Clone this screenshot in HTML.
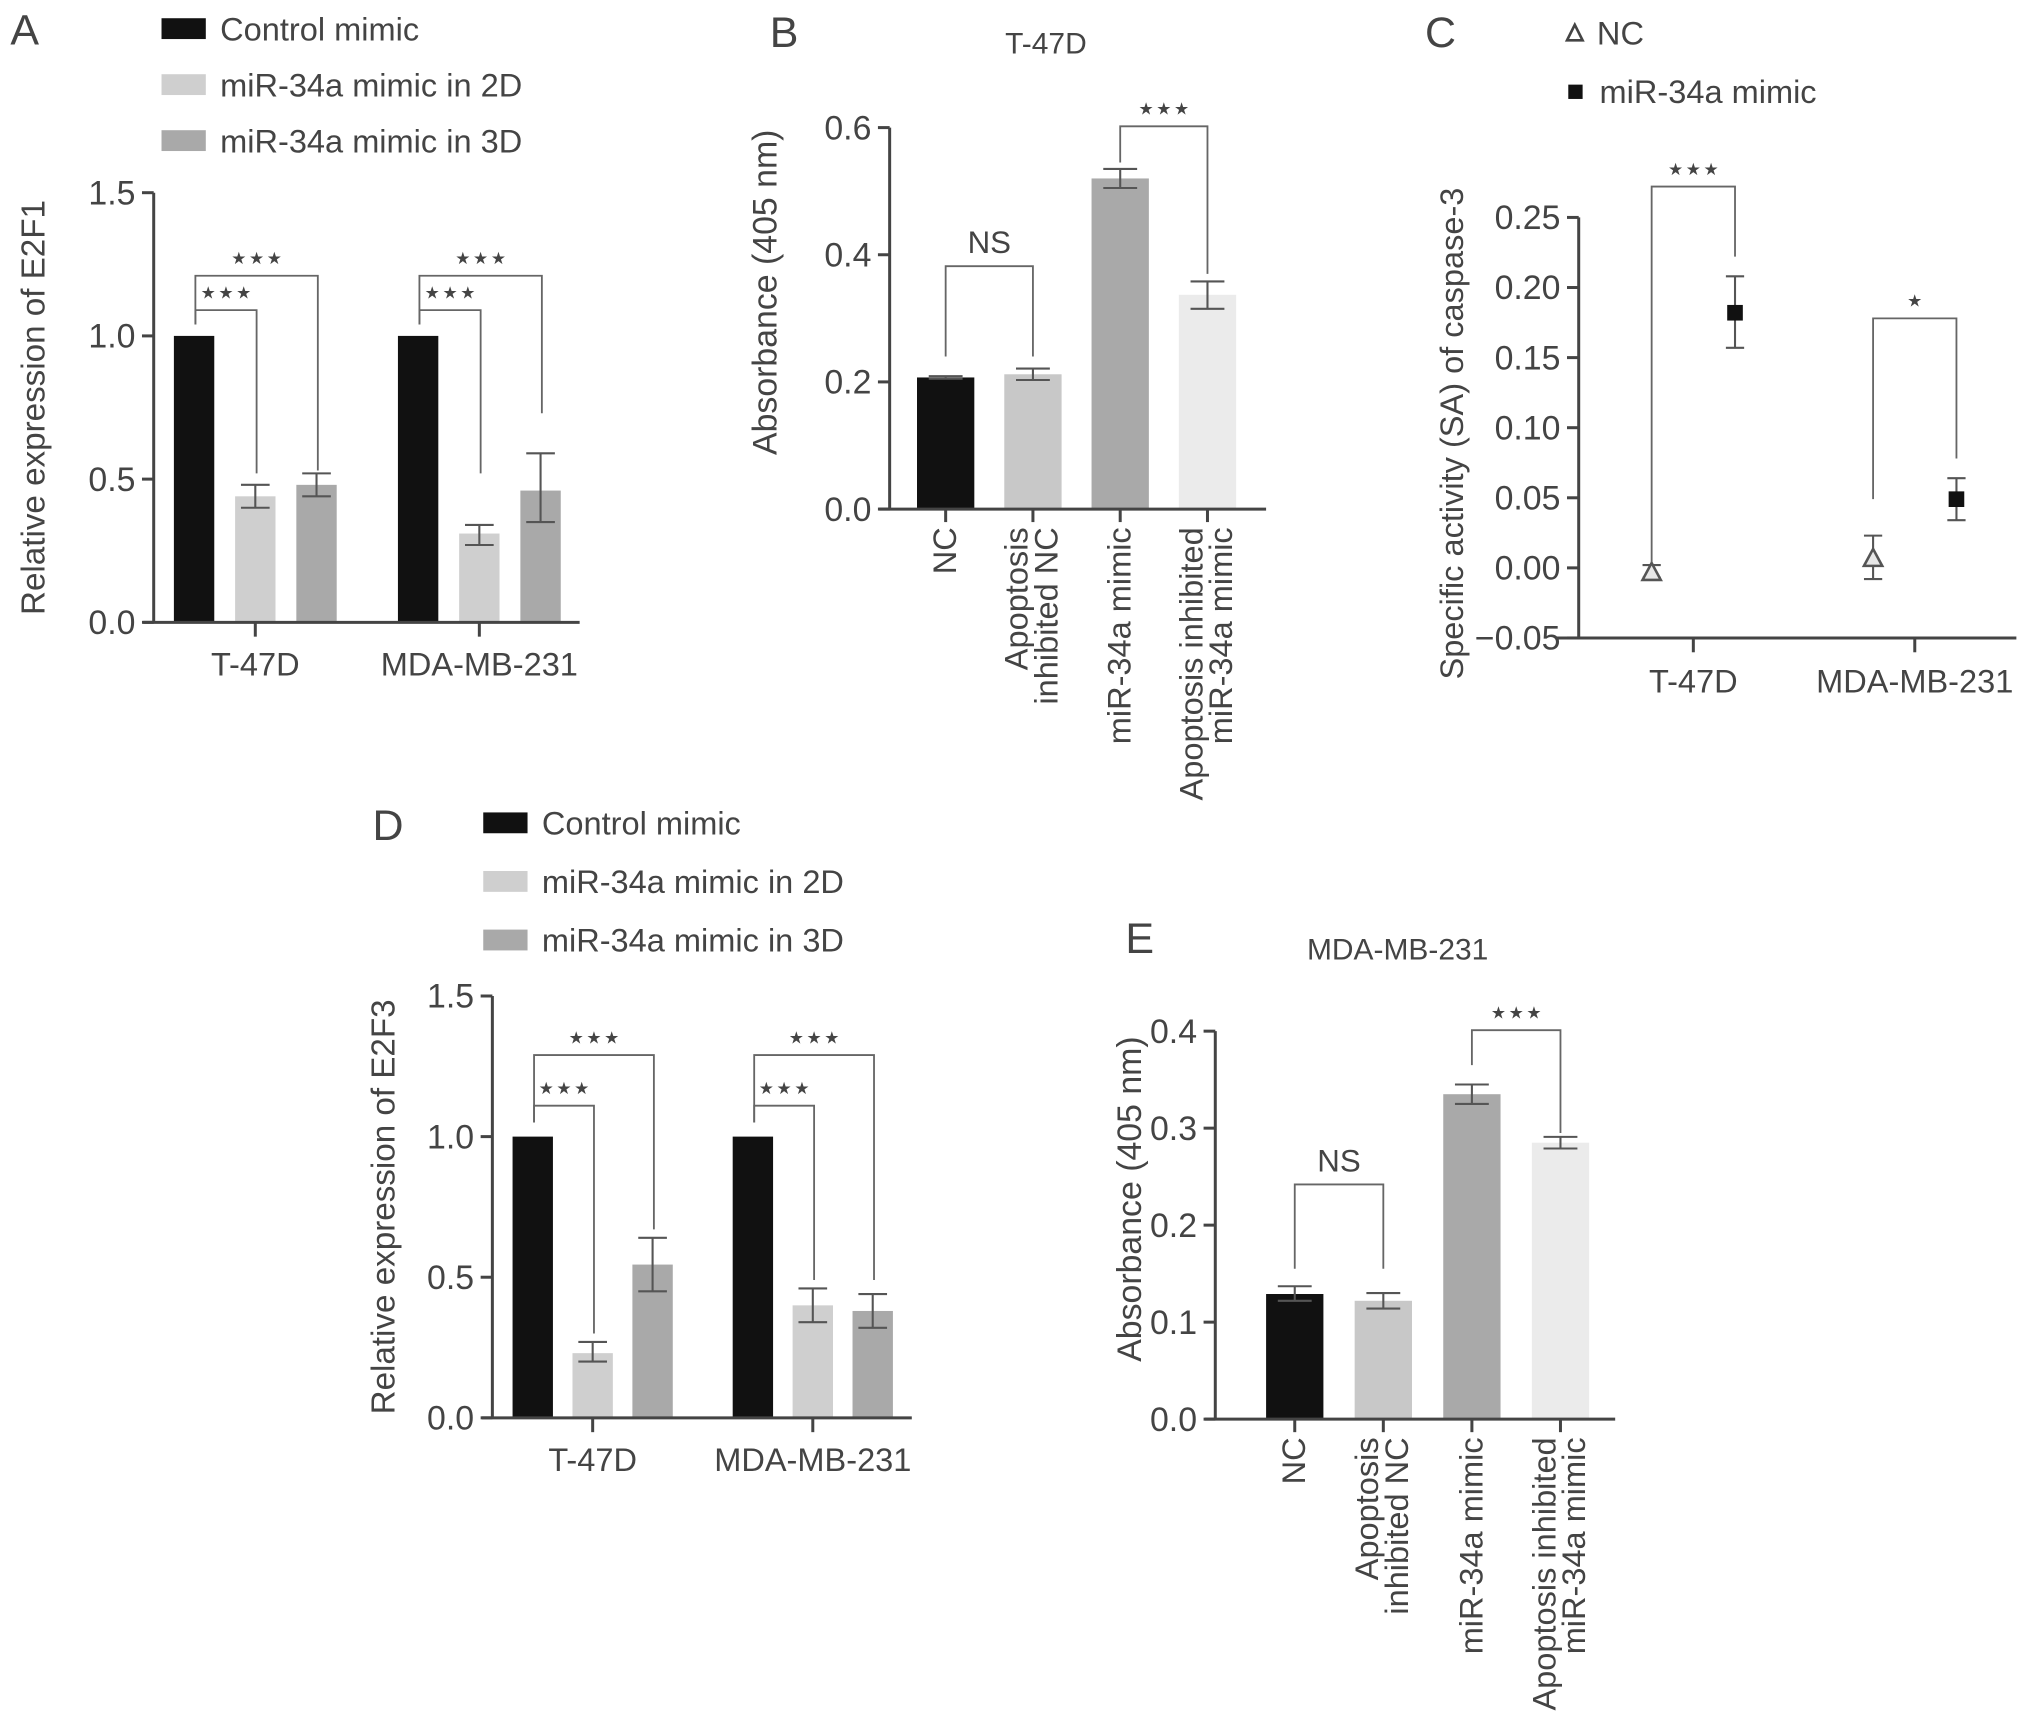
<!DOCTYPE html>
<html><head><meta charset="utf-8">
<style>
html,body{margin:0;padding:0;background:#fff;}
svg{display:block;}
text{font-family:"Liberation Sans",sans-serif;fill:#444;}
.narrow{font-family:"Liberation Sans Narrow","Liberation Sans",sans-serif;}
.stars{font-family:"DejaVu Sans",sans-serif;letter-spacing:2px;}
</style></head>
<body>
<svg id="fig" width="2032" height="1729" viewBox="0 0 1560 1328" preserveAspectRatio="none" xmlns="http://www.w3.org/2000/svg"></svg>
<script>
// ---------- Panel A data ----------
const aGroups = ["T-47D", "MDA-MB-231"];
const aSeries = ["Control mimic", "miR-34a mimic in 2D", "miR-34a mimic in 3D"];
const aValues = [[1.0, 0.44, 0.48], [1.0, 0.31, 0.46]];
const aErrLo = [[1.0, 0.40, 0.44], [1.0, 0.27, 0.35]];
const aErrHi = [[1.0, 0.48, 0.52], [1.0, 0.34, 0.59]];
const aTicks = ["0.0", "0.5", "1.0", "1.5"];
const aTickVals = [0, 0.5, 1.0, 1.5];
const aBrackets = [[0,0,1,1.09,1.04,0.52,"***"],[0,0,2,1.21,1.04,0.53,"***"],[1,0,1,1.09,1.04,0.52,"***"],[1,0,2,1.21,1.04,0.73,"***"]];

// ---------- Panel B data ----------
const bCats = [["NC"],["Apoptosis","inhibited NC"],["miR-34a mimic"],["Apoptosis inhibited","miR-34a mimic"]];
const bValues = [0.207, 0.212, 0.520, 0.337];
const bErrLo = [0.205, 0.203, 0.505, 0.315];
const bErrHi = [0.209, 0.221, 0.535, 0.358];
const bTicks = ["0.0","0.2","0.4","0.6"];
const bTickVals = [0, 0.2, 0.4, 0.6];
const bBrackets = [[0,1,0.382,0.24,0.24,"NS"],[2,3,0.602,0.545,0.37,"***"]];

// ---------- Panel C data ----------
const cGroups = ["T-47D","MDA-MB-231"];
const cSeries = ["NC","miR-34a mimic"];
const cValues = [[-0.003, 0.182],[0.007, 0.049]];
const cErrLo = [[-0.007, 0.157],[-0.008, 0.034]];
const cErrHi = [[0.002, 0.208],[0.023, 0.064]];
const cTicks = ["\u22120.05","0.00","0.05","0.10","0.15","0.20","0.25"];
const cTickVals = [-0.05,0,0.05,0.10,0.15,0.20,0.25];
const cBrackets = [[0,0.272,0.004,0.222,"***"],[1,0.178,0.049,0.078,"*"]];

// ---------- Panel D data ----------
const dGroups = ["T-47D","MDA-MB-231"];
const dSeries = ["Control mimic","miR-34a mimic in 2D","miR-34a mimic in 3D"];
const dValues = [[1.0, 0.23, 0.545],[1.0, 0.40, 0.38]];
const dErrLo = [[1.0, 0.20, 0.45],[1.0, 0.34, 0.32]];
const dErrHi = [[1.0, 0.27, 0.64],[1.0, 0.46, 0.44]];
const dTicks = ["0.0","0.5","1.0","1.5"];
const dTickVals = [0,0.5,1.0,1.5];
const dBrackets = [[0,0,1,1.11,1.05,0.30,"***"],[0,0,2,1.29,1.05,0.67,"***"],[1,0,1,1.11,1.05,0.49,"***"],[1,0,2,1.29,1.05,0.49,"***"]];

// ---------- Panel E data ----------
const eCats = [["NC"],["Apoptosis","inhibited NC"],["miR-34a mimic"],["Apoptosis inhibited","miR-34a mimic"]];
const eValues = [0.129, 0.122, 0.335, 0.285];
const eErrLo = [0.122, 0.114, 0.325, 0.279];
const eErrHi = [0.137, 0.130, 0.345, 0.291];
const eTicks = ["0.0","0.1","0.2","0.3","0.4"];
const eTickVals = [0,0.1,0.2,0.3,0.4];
const eBrackets = [[0,1,0.242,0.155,0.155,"NS"],[2,3,0.401,0.365,0.295,"***"]];

const NS = "http://www.w3.org/2000/svg";
const svg = document.getElementById("fig");
const colors3 = ["#111111","#cfcfcf","#a9a9a9"];
const colors4 = ["#111111","#c8c8c8","#a9a9a9","#ebebeb"];

function mk(tag, attrs, parent, txt){
  const el = document.createElementNS(NS, tag);
  for (const k in attrs) el.setAttribute(k, attrs[k]);
  if (txt !== undefined) el.textContent = txt;
  (parent||svg).appendChild(el);
  return el;
}
function line(x1,y1,x2,y2,w,c,p){ return mk("line",{x1:x1,y1:y1,x2:x2,y2:y2,stroke:c||"#444","stroke-width":w||2.3},p); }

function yAxis(g, x, yScale, vals, labels){
  const ax = line(x, yScale(vals[vals.length-1]), x, yScale(vals[0]), 2.3, "#444", g);
  
  
  vals.forEach((v,i)=>{
    const y = yScale(v);
    line(x-9, y, x, y, 2.3, "#444", g);
    const t = mk("text",{x:x-14,y:y+9,"text-anchor":"end","font-size":26},g,labels[i]);
    
    
  });
}
function xAxis(g, x1, x2, y){
  const ax = line(x1, y, x2, y, 2.3, "#444", g);
  
  
}
function errBar(g, cx, yLo, yHi, hw){
  line(cx, yLo, cx, yHi, 1.6, "#555", g);
  line(cx-hw, yLo, cx+hw, yLo, 1.6, "#555", g);
  line(cx-hw, yHi, cx+hw, yHi, 1.6, "#555", g);
}
function bracket(g, xl, xr, yTop, yl, yr, label){
  mk("path",{d:`M${xl},${yl} L${xl},${yTop} L${xr},${yTop} L${xr},${yr}`,fill:"none",stroke:"#666","stroke-width":1.4},g);
  let t;
  if (label === "NS") {
    t = mk("text",{x:(xl+xr)/2,y:yTop-10,"text-anchor":"middle","font-size":24},g,label);
  } else {
    const stars = label.replace(/\*/g, "\u2605");
    t = mk("text",{x:(xl+xr)/2+1,y:yTop-9,"text-anchor":"middle","font-size":13,"class":"stars"},g,stars);
  }
  
  
}
function rotLabel(g, x, y, text, fs, anchor, cls){
  const t = mk("text",{x:0,y:0,transform:`translate(${x},${y}) rotate(-90)`,"text-anchor":anchor||"middle","font-size":fs},g,text);
  if (cls) t.setAttribute("class", cls);
  return t;
}
function legendBox(g, x, y, color, text){
  const r = mk("rect",{x:x,y:y-8,width:34,height:16,fill:color},g);
  
  
  const t = mk("text",{x:x+45,y:y+9,"font-size":25},g,text);
  
  
}

function grouped(cfg){
  const g = mk("g",{});
  
  
  const ys = v => cfg.y0 + (cfg.y1 - cfg.y0) * (v - cfg.vmin) / (cfg.vmax - cfg.vmin);
  const xb = (gi, si) => cfg.groupX[gi] + (si - 1) * cfg.step;
  cfg.values.forEach((arr, gi) => arr.forEach((v, si) => {
    const cx = xb(gi, si);
    const r = mk("rect",{x:cx-cfg.bw/2,y:ys(v),width:cfg.bw,height:ys(0)-ys(v),fill:colors3[si]},g);
    
    
    if (si > 0) errBar(g, cx, ys(cfg.lo[gi][si]), ys(cfg.hi[gi][si]), 11);
  }));
  xAxis(g, cfg.axisX - 8, cfg.xEnd, ys(0));
  yAxis(g, cfg.axisX, ys, cfg.tickVals, cfg.ticks);
  cfg.groups.forEach((name, gi) => {
    line(cfg.groupX[gi], ys(0), cfg.groupX[gi], ys(0)+11, 2.3, "#444", g);
    const t = mk("text",{x:cfg.groupX[gi],y:ys(0)+41,"text-anchor":"middle","font-size":25},g,name);
    
    
  });
  cfg.brackets.forEach(b => {
    bracket(g, xb(b[0], b[1]) + 1, xb(b[0], b[2]) + 1, ys(b[3]), ys(b[4]), ys(b[5]), b[6]);
  });
  const yt = rotLabel(g, cfg.ytX, (cfg.y0 + cfg.y1)/2, cfg.ytitle, 25.5);
  
  
  cfg.series.forEach((s, i) => legendBox(g, cfg.legX, cfg.legY + i * cfg.legStep, colors3[i], s));
  const L = mk("text",{x:cfg.letterX,y:cfg.letterY,"font-size":33},g,cfg.letter);
  
  
}

function single(cfg){
  const g = mk("g",{});
  
  
  const ys = v => cfg.y0 + (cfg.y1 - cfg.y0) * (v - cfg.vmin) / (cfg.vmax - cfg.vmin);
  const xc = i => cfg.firstX + i * cfg.step;
  cfg.values.forEach((v, i) => {
    const r = mk("rect",{x:xc(i)-cfg.bw/2,y:ys(v),width:cfg.bw,height:ys(0)-ys(v),fill:colors4[i]},g);
    
    
    errBar(g, xc(i), ys(cfg.lo[i]), ys(cfg.hi[i]), 13);
    line(xc(i), ys(0), xc(i), ys(0)+10, 2.3, "#444", g);
    const lines = cfg.cats[i];
    const n = lines.length;
    lines.forEach((ln, k) => {
      const x = xc(i) + 8 + (k - (n - 1)) * 23 + (n === 2 ? 11 : 0);
      const t = rotLabel(g, x, ys(0) + 14, ln, 25, "end", "narrow");
      
      
    });
  });
  xAxis(g, cfg.axisX - 8, cfg.xEnd, ys(0));
  yAxis(g, cfg.axisX, ys, cfg.tickVals, cfg.ticks);
  cfg.brackets.forEach(b => bracket(g, xc(b[0]), xc(b[1]), ys(b[2]), ys(b[3]), ys(b[4]), b[5]));
  const yt = rotLabel(g, cfg.ytX, (cfg.y0 + cfg.y1)/2 - 20, cfg.ytitle, 26, "middle", "narrow");
  
  
  const tt = mk("text",{x:cfg.titleX,y:cfg.titleY,"text-anchor":"middle","font-size":23},g,cfg.title);
  
  
  const L = mk("text",{x:cfg.letterX,y:cfg.letterY,"font-size":33},g,cfg.letter);
  
  
}

grouped({name:"panel-a-chart",groups:aGroups,series:aSeries,values:aValues,lo:aErrLo,hi:aErrHi,ticks:aTicks,tickVals:aTickVals,brackets:aBrackets,
  y0:478,y1:148,vmin:0,vmax:1.5,axisX:118,xEnd:445,groupX:[196,368],step:47,bw:31,
  ytitle:"Relative expression of E2F1",ytX:34,legX:124,legY:22,legStep:43,letter:"A",letterX:8,letterY:34});
grouped({name:"panel-d-chart",groups:dGroups,series:dSeries,values:dValues,lo:dErrLo,hi:dErrHi,ticks:dTicks,tickVals:dTickVals,brackets:dBrackets,
  y0:1089,y1:765,vmin:0,vmax:1.5,axisX:378,xEnd:700,groupX:[455,624],step:46,bw:31,
  ytitle:"Relative expression of E2F3",ytX:303,legX:371,legY:632,legStep:45,letter:"D",letterX:286,letterY:645});
single({name:"panel-b-chart",cats:bCats,values:bValues,lo:bErrLo,hi:bErrHi,ticks:bTicks,tickVals:bTickVals,brackets:bBrackets,
  y0:391,y1:98,vmin:0,vmax:0.6,axisX:683,xEnd:972,firstX:726,step:67,bw:44,
  ytitle:"Absorbance (405 nm)",ytX:596,title:"T-47D",titleX:803,titleY:41,letter:"B",letterX:591,letterY:36});
single({name:"panel-e-chart",cats:eCats,values:eValues,lo:eErrLo,hi:eErrHi,ticks:eTicks,tickVals:eTickVals,brackets:eBrackets,
  y0:1090,y1:792,vmin:0,vmax:0.4,axisX:933,xEnd:1240,firstX:994,step:68,bw:44,
  ytitle:"Absorbance (405 nm)",ytX:876,title:"MDA-MB-231",titleX:1073,titleY:737,letter:"E",letterX:864,letterY:732});

(function(){
  const g = mk("g",{});
  
  
  const y0 = 490, y1 = 167, vmin = -0.05, vmax = 0.25;
  const ys = v => y0 + (y1 - y0) * (v - vmin) / (vmax - vmin);
  const groupX = [1300, 1470];
  const px = (gi, si) => groupX[gi] + (si === 0 ? -32 : 32);
  xAxis(g, 1195, 1548, ys(vmin));
  yAxis(g, 1212, ys, cTickVals, cTicks);
  cGroups.forEach((name, gi) => {
    line(groupX[gi], y0, groupX[gi], y0+11, 2.3, "#444", g);
    const t = mk("text",{x:groupX[gi],y:y0+42,"text-anchor":"middle","font-size":25},g,name);
    
    
  });
  cValues.forEach((arr, gi) => arr.forEach((v, si) => {
    const cx = px(gi, si), cy = ys(v);
    errBar(g, cx, ys(cErrLo[gi][si]), ys(cErrHi[gi][si]), 7);
    let m;
    if (si === 0) m = mk("polygon",{points:`${cx},${cy-7} ${cx-7},${cy+6} ${cx+7},${cy+6}`,fill:"#e8e8e8",stroke:"#555","stroke-width":2},g);
    else m = mk("rect",{x:cx-6,y:cy-6,width:12,height:12,fill:"#111"},g);
    
    
  }));
  cBrackets.forEach(b => bracket(g, px(b[0],0), px(b[0],1), ys(b[1]), ys(b[2]), ys(b[3]), b[4]));
  const yt = rotLabel(g, 1123, 333, "Specific activity (SA) of caspase-3", 25);
  
  
  const tri = mk("polygon",{points:"1209,19 1203,31 1215,31",fill:"none",stroke:"#444","stroke-width":2},g);
  
  
  const t1 = mk("text",{x:1226,y:34,"font-size":25},g,"NC");
  
  
  const sq = mk("rect",{x:1204,y:65,width:11,height:11,fill:"#111"},g);
  
  
  const t2 = mk("text",{x:1228,y:79,"font-size":25},g,"miR-34a mimic");
  
  
  const L = mk("text",{x:1094,y:36,"font-size":33},g,"C");
  
  
})();
</script>
</body></html>
